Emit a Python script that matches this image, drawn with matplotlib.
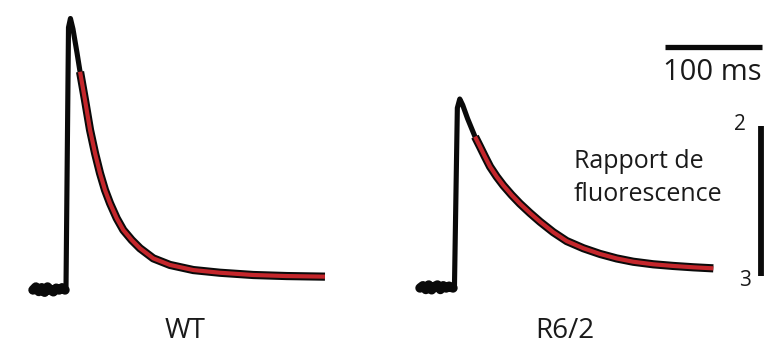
import matplotlib
matplotlib.use("Agg")
import matplotlib.pyplot as plt

plt.rcParams['font.family'] = ['Open Sans', 'DejaVu Sans']

# ---------------- data (time in ms, fluorescence ratio above baseline) -------------
# WT: recorded baseline
wt_base_t = [0, 3, 6, 9, 12, 15, 18, 21, 24, 27, 30, 33]
wt_base_r = [0.0, 0.02, -0.01, 0.015, -0.015, 0.02, 0.0, -0.012, 0.012, 0.0, 0.015, 0.0]
# WT: rise and peak before the fit
wt_rise_t = [33, 34, 36.6, 38.6, 41.2, 45.4]
wt_rise_r = [0.0, 0.0, 1.75, 1.81, 1.74, 1.58]
# WT: exponential fit (red)
wt_fit_t = [48.5, 53.6, 58.8, 64.0, 69.1, 74.2, 79.4, 86.3, 93.1, 101.8, 110.3, 124.0,
            141.2, 165.3, 192.8, 227.1, 261.5, 301.0]
wt_fit_r = [1.455, 1.267, 1.067, 0.911, 0.778, 0.667, 0.578, 0.478, 0.400, 0.333, 0.278,
            0.211, 0.167, 0.133, 0.115, 0.100, 0.093, 0.089]

# R6/2: recorded baseline
r62_base_t = [0, 3, 6, 9, 12, 15, 18, 21, 24, 27, 30, 34]
r62_base_r = [0.0, 0.015, -0.01, 0.02, -0.012, 0.01, 0.02, -0.01, 0.015, 0.0, 0.012, 0.0]
# R6/2: rise and peak before the fit
r62_rise_t = [34, 35.5, 38.5, 41.0, 44.0, 49.0]
r62_rise_r = [0.0, 0.0, 1.20, 1.26, 1.22, 1.13]
# R6/2: exponential fit (red)
r62_fit_t = [56.7, 61.9, 67.0, 72.2, 79.1, 85.9, 94.5, 103.1, 113.4, 123.7, 137.4, 151.2,
             168.4, 185.6, 202.8, 219.9, 240.5, 261.1, 281.8, 302.4]
r62_fit_r = [1.009, 0.942, 0.875, 0.809, 0.742, 0.684, 0.620, 0.562, 0.500, 0.442, 0.372,
             0.313, 0.265, 0.227, 0.197, 0.175, 0.158, 0.147, 0.138, 0.131]

group_labels = ["WT", "R6/2"]
time_bar_ms = 100
time_bar_label = "100 ms"
ratio_bar = 1.0
ratio_bar_labels = ["2", "3"]
ratio_label = "Rapport de\nfluorescence"

# ---------------- layout ----------------
W, H = 769, 344
PX_PER_MS = 0.97
PX_PER_UNIT = 150.0
X0_PX, BASE_PX = 33, 290          # WT start / baseline pixel
R62_OFFSET_MS = (420 - 33) / PX_PER_MS
R62_BASE_SHIFT = (290 - 288) / PX_PER_UNIT

fig = plt.figure(figsize=(W / 100, H / 100), dpi=100)
ax = fig.add_axes([0, 0, 1, 1])
ax.set_xlim(-X0_PX / PX_PER_MS, (W - X0_PX) / PX_PER_MS)
ax.set_ylim((BASE_PX - H) / PX_PER_UNIT, BASE_PX / PX_PER_UNIT)
ax.axis('off')

black = '#0a0a0a'
red = '#c4262b'


def draw_trace(base_t, base_r, rise_t, rise_r, fit_t, fit_r, dt=0.0, dr=0.0):
    sh = lambda ts: [t + dt for t in ts]
    sr = lambda rs: [r + dr for r in rs]
    # whole recorded trace (thin part: rise and peak)
    ax.plot(sh(base_t + rise_t + fit_t[:2]), sr(base_r + rise_r + fit_r[:2]),
            color=black, lw=3.7, solid_capstyle='round', solid_joinstyle='round')
    # noisy baseline (thicker)
    ax.plot(sh(base_t), sr(base_r), color=black, lw=6.8,
            solid_capstyle='round', solid_joinstyle='round')
    # noisy decay under the fit
    ax.plot(sh(fit_t), sr(fit_r), color=black, lw=5.9,
            solid_capstyle='butt', solid_joinstyle='round')
    # exponential fit
    ax.plot(sh(fit_t), sr(fit_r), color=red, lw=3.0,
            solid_capstyle='butt', solid_joinstyle='round')


draw_trace(wt_base_t, wt_base_r, wt_rise_t, wt_rise_r, wt_fit_t, wt_fit_r)
draw_trace(r62_base_t, r62_base_r, r62_rise_t, r62_rise_r, r62_fit_t, r62_fit_r,
           dt=R62_OFFSET_MS, dr=R62_BASE_SHIFT)


def px2data(px, py):
    return (px - X0_PX) / PX_PER_MS, (BASE_PX - py) / PX_PER_UNIT

# time scale bar
tx0, ty = px2data(665, 47)
ax.plot([tx0, tx0 + time_bar_ms], [ty, ty], color=black, lw=3.8, solid_capstyle='butt')
# ratio scale bar
vx, vy0 = px2data(761.5, 276)
ax.plot([vx, vx], [vy0, vy0 + ratio_bar], color=black, lw=4.2, solid_capstyle='butt')


def txt(px, py, s, size, **kw):
    ax.text(px / W, 1 - py / H, s, transform=ax.transAxes, fontsize=size,
            color='#1a1a1a', **kw)

txt(712, 73, time_bar_label, 21, ha='center', va='center')
txt(740, 125, ratio_bar_labels[0], 15, ha='center', va='center')
txt(745, 281, ratio_bar_labels[1], 15, ha='center', va='center')
txt(574, 178, ratio_label, 18, ha='left', va='center', linespacing=1.45)
txt(185, 331, group_labels[0], 20, ha='center', va='center')
txt(565, 331, group_labels[1], 20, ha='center', va='center')

fig.savefig('out.png', dpi=100)
